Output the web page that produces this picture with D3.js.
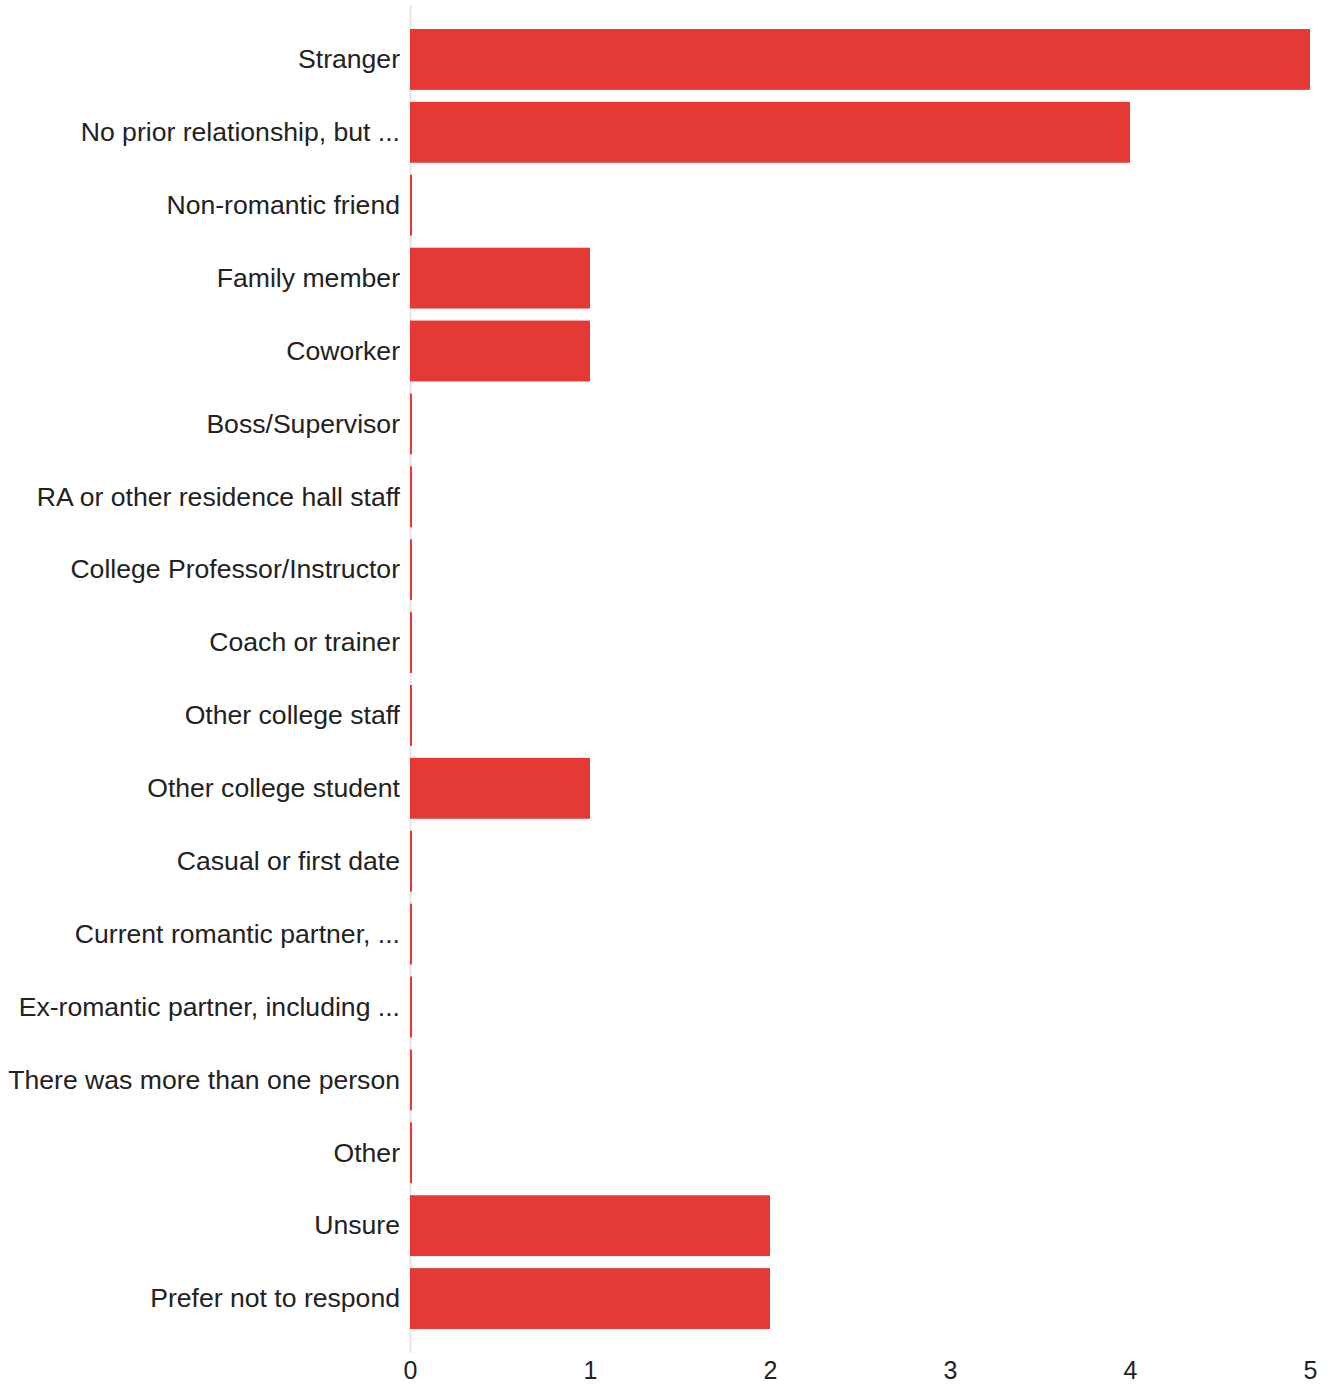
<!DOCTYPE html>
<html><head><meta charset="utf-8">
<script src="https://cdn.jsdelivr.net/npm/d3@7"></script>
<style>body{margin:0;background:#fff;} svg text{font-family:"Liberation Sans",Arial,sans-serif;}</style>
</head><body>
<script>
const categories = ["Stranger","No prior relationship, but ...","Non-romantic friend","Family member","Coworker","Boss/Supervisor","RA or other residence hall staff","College Professor/Instructor","Coach or trainer","Other college staff","Other college student","Casual or first date","Current romantic partner, ...","Ex-romantic partner, including ...","There was more than one person","Other","Unsure","Prefer not to respond"];
const values = [5,4,0,1,1,0,0,0,0,0,1,0,0,0,0,0,2,2];
const xTicks = [0,1,2,3,4,5];

const W = 1335, H = 1385;
const svg = d3.select("body").append("svg").attr("width", W).attr("height", H);
const x = d3.scaleLinear().domain([0,5]).range([410,1310]);
const y = d3.scaleBand().domain(categories).range([23,1335]).paddingInner(0.165).paddingOuter(0.0825);

svg.append("line").attr("x1",410.5).attr("x2",410.5).attr("y1",5).attr("y2",1353)
  .attr("stroke","#e6e6e6").attr("stroke-width",2);

svg.selectAll("rect.bar").data(categories).join("rect").attr("class","bar")
  .attr("x", x(0))
  .attr("y", d => y(d))
  .attr("height", y.bandwidth())
  .attr("width", (d,i) => Math.max(2, x(values[i]) - x(0)))
  .attr("fill", "#e53935");

svg.selectAll("text.cat").data(categories).join("text").attr("class","cat")
  .attr("x", 400).attr("y", d => y(d) + y.bandwidth()/2)
  .attr("dy","0.33em").attr("text-anchor","end")
  .attr("font-size", 26.6).attr("fill","#222").text(d => d);

const ax = svg.append("g").attr("transform","translate(0,1353)")
  .call(d3.axisBottom(x).tickValues(xTicks).tickSize(0).tickPadding(8).tickFormat(d3.format("d")));
ax.select(".domain").remove();
ax.selectAll("text").attr("font-size",25).attr("fill","#222").attr("font-family","Liberation Sans, Arial, sans-serif");
</script>
</body></html>
